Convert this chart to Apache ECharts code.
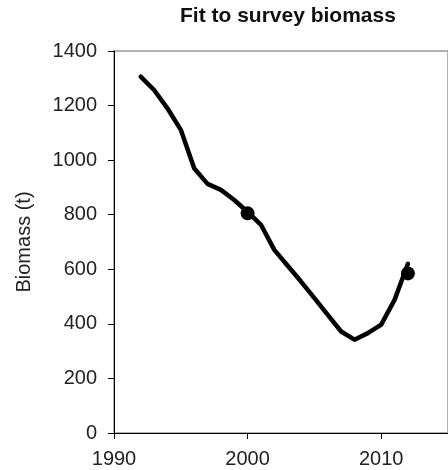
<!DOCTYPE html>
<html>
<head>
<meta charset="utf-8">
<script src="https://cdn.jsdelivr.net/npm/echarts@6/dist/echarts.min.js"></script>
<style>
  html, body { margin: 0; padding: 0; background: #fff; }
  #chart { width: 448px; height: 470px; }
</style>
</head>
<body>
<div id="chart"></div>
<script>
// Model-fitted biomass trajectory (t)
const modelYears = [1992, 1993, 1994, 1995, 1996, 1997, 1998, 1999, 2000, 2001, 2002,
                    2003, 2004, 2005, 2006, 2007, 2008, 2009, 2010, 2011, 2012];
const modelBiomass = [1306, 1257, 1190, 1111, 970, 913, 891, 854, 810, 763, 671,
                      613, 555, 494, 433, 372, 342, 366, 397, 488, 620];

// Survey biomass observations (t)
const surveyYears = [2000, 2012];
const surveyBiomass = [805, 585];

const FONT = 'Liberation Sans, Arial, sans-serif';
const plain = v => String(v);

const chart = echarts.init(document.getElementById('chart'), null, { renderer: 'canvas' });

chart.setOption({
  animation: false,
  backgroundColor: '#ffffff',
  title: {
    text: 'Fit to survey biomass',
    left: 180,
    top: 6,
    padding: 0,
    textStyle: { fontFamily: FONT, fontSize: 21, fontWeight: 'bold', color: '#111' }
  },
  grid: {
    left: 114,
    top: 51,
    width: 342,
    height: 382,
    show: true,
    borderColor: '#999',
    borderWidth: 1.5,
    backgroundColor: 'transparent'
  },
  xAxis: {
    type: 'value',
    min: 1990,
    max: 2015,
    interval: 10,
    axisLine: { show: true, lineStyle: { color: '#000', width: 1 } },
    axisTick: { show: true, inside: false, length: 6, lineStyle: { color: '#000', width: 1 } },
    splitLine: { show: false },
    axisLabel: {
      fontFamily: FONT, fontSize: 20, color: '#222', margin: 16,
      showMaxLabel: false, formatter: plain
    }
  },
  yAxis: {
    type: 'value',
    min: 0,
    max: 1400,
    interval: 200,
    name: 'Biomass (t)',
    nameLocation: 'middle',
    nameRotate: 90,
    nameGap: 80,
    nameTextStyle: { fontFamily: FONT, fontSize: 20, color: '#222' },
    axisLine: { show: true, lineStyle: { color: '#000', width: 1 } },
    axisTick: { show: true, inside: false, length: 6, lineStyle: { color: '#000', width: 1 } },
    splitLine: { show: false },
    axisLabel: { fontFamily: FONT, fontSize: 20, color: '#222', margin: 17, formatter: plain }
  },
  series: [
    {
      name: 'Model',
      type: 'line',
      data: modelYears.map((y, i) => [y, modelBiomass[i]]),
      showSymbol: false,
      symbol: 'none',
      smooth: false,
      lineStyle: { color: '#000', width: 4.5, cap: 'round', join: 'round' },
      z: 2
    },
    {
      name: 'Survey',
      type: 'scatter',
      data: surveyYears.map((y, i) => [y, surveyBiomass[i]]),
      symbol: 'circle',
      symbolSize: 14,
      itemStyle: { color: '#000', opacity: 1 },
      z: 3
    }
  ]
});
</script>
</body>
</html>
